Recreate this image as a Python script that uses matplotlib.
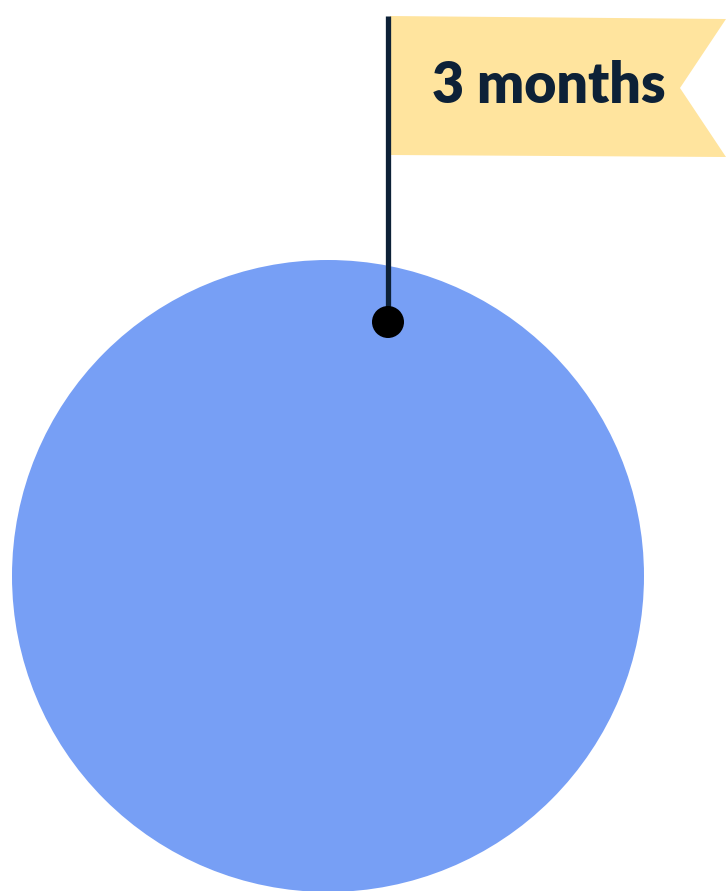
import matplotlib.pyplot as plt
from matplotlib.patches import Circle, Polygon

# picture is drawn in pixel units, y pointing down
W, H = 726, 891
label = "3 months"
circle_xy = (328, 576)
circle_r = 316
pole_x = 388
pole_top, pole_bottom = 16, 322
dot_r = 16
flag_pts = [(390, 16), (726, 19), (680, 88), (726, 157), (390, 155)]

blue = "#779ff5"
navy = "#0d2137"
yellow = "#ffe49e"

fig = plt.figure(figsize=(W / 100, H / 100), dpi=100)
ax = fig.add_axes([0, 0, 1, 1])
ax.set_xlim(0, W)
ax.set_ylim(H, 0)
ax.axis("off")

ax.add_patch(Circle(circle_xy, circle_r, color=blue, lw=0, zorder=1))
ax.add_patch(Polygon(flag_pts, closed=True, color=yellow, lw=0, zorder=2))
ax.plot([pole_x, pole_x], [pole_top, pole_bottom], color=navy, lw=3.8,
        solid_capstyle="butt", zorder=3)
ax.add_patch(Circle((pole_x, pole_bottom), dot_r, color="black", lw=0, zorder=4))

ax.text(549, 86, label, ha="center", va="center", fontsize=40,
        fontweight="heavy", family="Lato", color=navy, zorder=5)

fig.savefig("out.png", dpi=100)
